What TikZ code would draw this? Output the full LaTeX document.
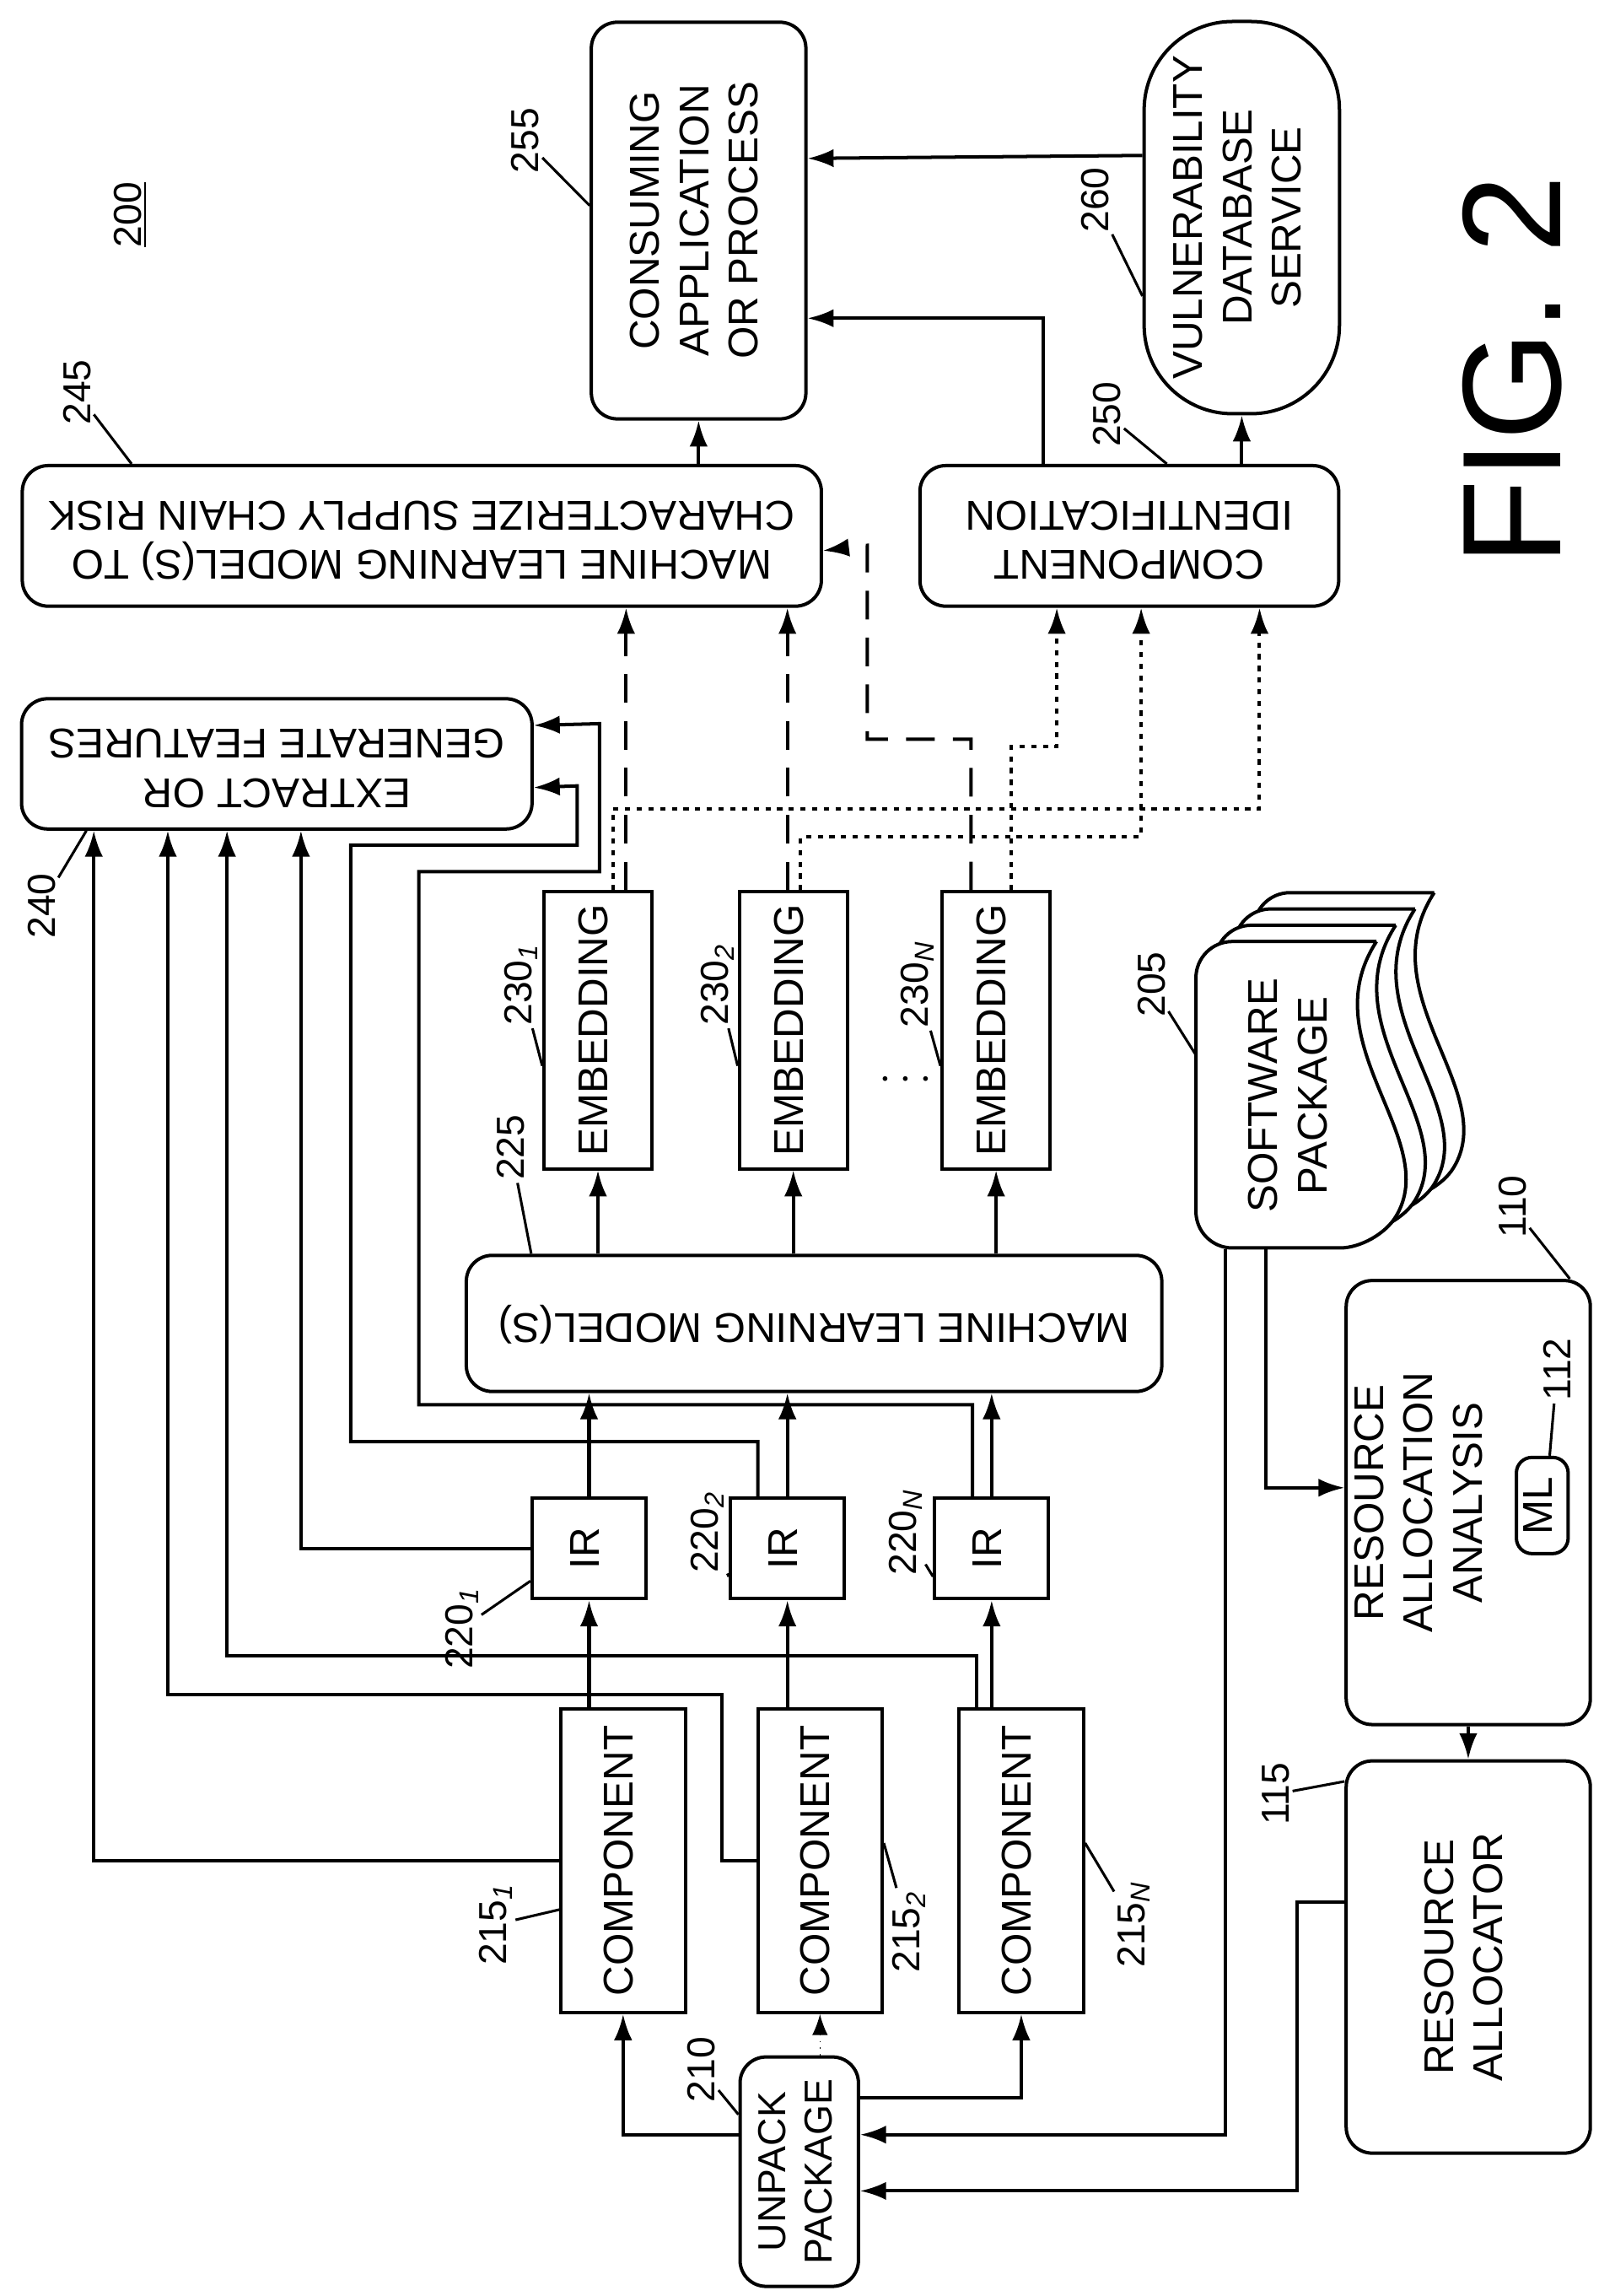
\documentclass[tikz,border=0pt]{standalone}
\usepackage{fontspec}
\setmainfont{Liberation Sans}
\usetikzlibrary{arrows,arrows.meta,positioning,shapes}
\newcommand{\vt}[1]{\rotatebox{90}{\begin{tabular}{@{}c@{}}#1\end{tabular}}}
\newcommand{\ut}[1]{\rotatebox{180}{\begin{tabular}{@{}c@{}}#1\end{tabular}}}
\newcommand{\sub}[1]{\textsubscript{\itshape #1}}

\begin{document}
\begin{tikzpicture}[x=0.02cm,y=-0.02cm,
            box/.style={draw,rectangle,line width=1.3pt,inner sep=0pt,font=\fontsize{16}{19}\selectfont},
            rbox/.style={box,rounded corners=10pt},
            lab/.style={rotate=90,inner sep=1pt,font=\fontsize{15}{18}\selectfont},
            lead/.style={line width=1pt},
            arr/.style={-{Latex[length=10pt,width=7pt]},line width=1.3pt},
            dsh/.style={arr,dash pattern=on 11pt off 7pt},
            dtd/.style={arr,dash pattern=on 2pt off 2.5pt}
          ]
          \useasboundingbox (0,0) rectangle (1080,1551);

          %package and components
          \node[rbox,minimum width=1.6cm,minimum height=3.1cm,font=\fontsize{15}{18}\selectfont] (up) at (540,1467) {\vt{UNPACK\\PACKAGE}};
          \node[box,minimum width=1.68cm,minimum height=4.1cm] (c1) at (421,1257) {\vt{COMPONENT}};
          \node[box,minimum width=1.68cm,minimum height=4.1cm] (c2) at (554,1257) {\vt{COMPONENT}};
          \node[box,minimum width=1.68cm,minimum height=4.1cm] (cN) at (690,1257) {\vt{COMPONENT}};

          %IR
          \node[box,minimum width=1.54cm,minimum height=1.36cm] (ir1) at (398,1046) {\vt{IR}};
          \node[box,minimum width=1.54cm,minimum height=1.36cm] (ir2) at (532,1046) {\vt{IR}};
          \node[box,minimum width=1.54cm,minimum height=1.36cm] (irN) at (670,1046) {\vt{IR}};

          %models and embeddings
          \node[rbox,minimum width=9.4cm,minimum height=1.84cm] (ml) at (550,894) {\ut{MACHINE LEARNING MODEL(S)}};
          \node[box,minimum width=1.46cm,minimum height=3.74cm] (em1) at (404,696) {\vt{EMBEDDING}};
          \node[box,minimum width=1.46cm,minimum height=3.74cm] (em2) at (536,696) {\vt{EMBEDDING}};
          \node[box,minimum width=1.46cm,minimum height=3.74cm] (emN) at (673,696) {\vt{EMBEDDING}};
          \node[font=\fontsize{16}{19}\selectfont] (dots) at (612,730) {$\cdots$};

          %features and risk
          \node[rbox,minimum width=6.9cm,minimum height=1.76cm] (ex) at (187,516) {\ut{EXTRACT OR\\GENERATE FEATURES}};
          \node[rbox,minimum width=10.8cm,minimum height=1.9cm] (risk) at (285,362) {\ut{MACHINE LEARNING MODEL(S) TO\\CHARACTERIZE SUPPLY CHAIN RISK}};
          \node[rbox,minimum width=5.66cm,minimum height=1.9cm] (cid) at (763,362) {\ut{COMPONENT\\IDENTIFICATION}};
          \node[rbox,minimum width=2.9cm,minimum height=5.36cm] (cons) at (472,149) {\vt{CONSUMING\\APPLICATION\\OR PROCESS}};
          \node[box,rounded corners=34pt,minimum width=2.64cm,minimum height=5.3cm] (vdb) at (839,147) {\vt{VULNERABILITY\\DATABASE\\SERVICE}};

          %software package
          \foreach \d in {3,2,1,0}
            \draw[line width=1.3pt,fill=white,shift={(13*\d,-11*\d)}] (930,636) [rounded corners=14pt] -- (808,636) -- (808,843) -- (930,843) [sharp corners] .. controls (975,770) and (885,705) .. (930,636);
          \node[font=\fontsize{16}{19}\selectfont,minimum width=2.6cm,minimum height=4.14cm] (pkg) at (873,740) {\vt{SOFTWARE\\PACKAGE}};

          %resources
          \node[rbox,minimum width=3.3cm,minimum height=6cm] (raa) at (992,1015) {\vt{RESOURCE\\ALLOCATION\\ANALYSIS\\[16pt]\mbox{}}};
          \node[box,rounded corners=6pt,minimum width=0.7cm,minimum height=1.3cm] (ml112) at (1042,1017) {\vt{ML}};
          \node[rbox,minimum width=3.3cm,minimum height=5.3cm] (ra) at (992,1322) {\vt{RESOURCE\\ALLOCATOR}};

          %titles and labels
          \node[lab] (l200) at (88,145) {\underline{200}};
          \node[rotate=90,font=\fontsize{54}{60}\selectfont] (fig) at (1022,250) {FIG. 2};
          \node[lab] (l255) at (355,95) {255};
          \node[lab] (l260) at (740,135) {260};
          \node[lab] (l245) at (52,265) {245};
          \node[lab] (l250) at (748,280) {250};
          \node[lab] (l240) at (28,612) {240};
          \node[lab] (l225) at (345,775) {225};
          \node[lab] (l2301) at (352,665) {230\sub{1}};
          \node[lab] (l2302) at (485,665) {230\sub{2}};
          \node[lab] (l230N) at (620,665) {230\sub{N}};
          \node[lab] (l2201) at (312,1100) {220\sub{1}};
          \node[lab] (l2202) at (478,1035) {220\sub{2}};
          \node[lab] (l220N) at (612,1035) {220\sub{N}};
          \node[lab] (l2151) at (335,1300) {215\sub{1}};
          \node[lab] (l2152) at (614,1305) {215\sub{2}};
          \node[lab] (l215N) at (766,1300) {215\sub{N}};
          \node[lab] (l210) at (474,1398) {210};
          \node[lab] (l205) at (778,665) {205};
          \node[lab] (l110) at (1022,815) {110};
          \node[lab] (l112) at (1052,925) {112};
          \node[lab] (l115) at (862,1212) {115};

          %leaders
          \draw[lead] (l255) -- ([yshift=-2.5cm]cons.north west);
          \draw[lead] (l260) -- ([yshift=-1.06cm]vdb.west);
          \draw[lead] (l245) -- ([xshift=1.5cm]risk.north west);
          \draw[lead] (l250) -- ([xshift=3.36cm]cid.north west);
          \draw[lead] (l240) -- ([xshift=0.9cm]ex.south west);
          \draw[lead] (l225) -- ([xshift=0.9cm]ml.north west);
          \draw[lead] (l2301) -- ([yshift=-0.48cm]em1.west);
          \draw[lead] (l2302) -- ([yshift=-0.48cm]em2.west);
          \draw[lead] (l230N) -- ([yshift=-0.48cm]emN.west);
          \draw[lead] (l2201) -- ([yshift=-0.44cm]ir1.west);
          \draw[lead] (l2202) -- ([yshift=-0.38cm]ir2.west);
          \draw[lead] (l220N) -- ([yshift=-0.38cm]irN.west);
          \draw[lead] (l2151) -- ([yshift=-0.66cm]c1.west);
          \draw[lead] (l2152) -- ([yshift=0.24cm]c2.east);
          \draw[lead] (l215N) -- ([yshift=0.24cm]cN.east);
          \draw[lead] (l210) -- ([yshift=-0.8cm]up.north west);
          \draw[lead] (l205) -- ([yshift=-1.52cm]pkg.north west);
          \draw[lead] (l110) -- ([xshift=-0.3cm]raa.north east);
          \draw[lead] (l112) -- ([xshift=0.1cm]ml112.north);
          \draw[lead] (l115) -- ([yshift=-0.3cm]ra.north west);

          %unpack
          \draw[arr] ([yshift=0.5cm]up.west) -| (c1.south);
          \draw[-{Latex[length=8pt,width=6pt]},line width=0.5pt,dotted] (c2.south |- up.north) -- (c2.south);
          \draw[arr] ([yshift=1cm]up.east) -| (cN.south);
          \draw[arr] ([xshift=-0.9cm]pkg.south) |- ([yshift=0.5cm]up.east);
          \draw[arr] ([yshift=0.74cm]ra.west) -- ++(-32,0) |- ([yshift=-0.26cm]up.east);
          \draw[arr] ([xshift=-0.36cm]pkg.south) |- ([yshift=0.2cm]raa.west);
          \draw[arr] (raa.south) -- (ra.north);

          %components to IR and features
          \draw[arr] (ir1.south |- c1.north) -- (ir1.south);
          \draw[arr] (ir2.south |- c2.north) -- (ir2.south);
          \draw[arr] (irN.south |- cN.north) -- (irN.south);
          \draw[arr] (c1.west) -| ([xshift=1cm]ex.south west);
          \draw[arr] (c2.west) -- ++(-23,0) -- ++(0,-112) -| ([xshift=2cm]ex.south west);
          \draw[arr] ([xshift=-0.2cm]irN.south |- cN.north) -- ++(0,-35) -| ([xshift=2.8cm]ex.south west);
          \draw[arr] (ir1.west) -| ([xshift=3.8cm]ex.south west);
          \draw[arr] ([xshift=-0.4cm]ir2.north) -- ++(0,-37) -- ++(-275,0) -- ++(0,-403) -- ++(153,0) -- ++(0,-40) -- ([yshift=-0.32cm]ex.east);
          \draw[arr] ([xshift=-0.26cm]irN.north) -- ++(0,-62) -- ++(-374,0) -- ++(0,-360) -- ++(122,0) -- ++(0,-100) -- ([yshift=0.52cm]ex.east);

          %IR to models to embeddings
          \draw[arr] (ir1.north) -- (ir1.north |- ml.south);
          \draw[arr] (ir2.north) -- (ir2.north |- ml.south);
          \draw[arr] (irN.north) -- (irN.north |- ml.south);
          \draw[arr] (em1.south |- ml.north) -- (em1.south);
          \draw[arr] (em2.south |- ml.north) -- (em2.south);
          \draw[arr] (emN.south |- ml.north) -- (emN.south);

          %embeddings to risk and identification
          \draw[dsh] ([xshift=0.38cm]em1.north) -- ([xshift=0.38cm]em1.north |- risk.south);
          \draw[dsh] ([xshift=-0.08cm]em2.north) -- ([xshift=-0.08cm]em2.north |- risk.south);
          \draw[dsh] ([xshift=-0.34cm]emN.north) -- ++(0,-102) -- ++(-70,0) -- ++(0,-131) -- ([yshift=-0.2cm]risk.east);
          \draw[dtd] ([xshift=0.2cm]em1.north) -- ++(0,-55) -| ([xshift=1.76cm]cid.south);
          \draw[dtd] ([xshift=0.1cm]em2.north) -- ++(0,-36) -| ([xshift=0.16cm]cid.south);
          \draw[dtd] ([xshift=0.2cm]emN.north) -- ++(0,-97) -| ([xshift=-0.98cm]cid.south);

          %outputs
          \draw[arr] (cons.south |- risk.north) -- (cons.south);
          \draw[arr] ([xshift=-1.16cm]cid.north) |- ([yshift=-1.32cm]cons.east);
          \draw[arr] ([yshift=0.84cm]vdb.west) -- ([yshift=0.84cm]cons.east);
          \draw[arr] (vdb.south |- cid.north) -- (vdb.south);
\end{tikzpicture}
\end{document}
